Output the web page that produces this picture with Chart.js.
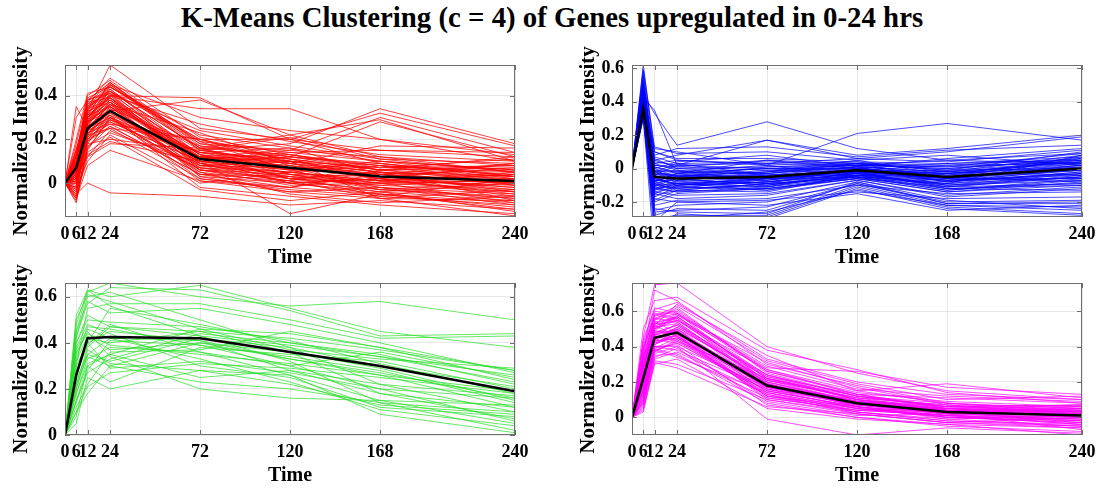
<!DOCTYPE html>
<html>
<head>
<meta charset="utf-8">
<script src="https://cdn.jsdelivr.net/npm/chart.js@4.4.0/dist/chart.umd.min.js"></script>
<style>
  body { margin: 0; background: #fff; width: 1104px; height: 492px; overflow: hidden; position: relative; font-family: "Liberation Serif", "Times New Roman", serif; }
  #title { position: absolute; left: 0; top: 0; width: 1104px; text-align: center; font-weight: bold; font-size: 30px; transform: scaleX(0.96); }
  canvas { position: absolute; }
</style>
</head>
<body>
<div id="title">K-Means Clustering (c = 4) of Genes upregulated in 0-24 hrs</div>
<canvas id="c1" width="552" height="235" style="left:0;top:40px"></canvas>
<canvas id="c2" width="544" height="235" style="left:560px;top:40px"></canvas>
<canvas id="c3" width="552" height="235" style="left:0;top:258px"></canvas>
<canvas id="c4" width="544" height="235" style="left:560px;top:258px"></canvas>
<script>
// time points (hrs)
const timePoints = [0, 6, 12, 24, 72, 120, 168, 240];

// cluster 1 (red)
const redCentroid = [0, 0.07, 0.25, 0.33, 0.11, 0.07, 0.03, 0.01];
const redGenes = [
  [0, 0.02, 0.30, 0.40, 0.12, 0.08, 0.02, 0.00],
  [0, -0.05, 0.22, 0.35, 0.08, 0.04, -0.02, -0.05],
  [0, 0.10, 0.35, 0.45, 0.15, 0.10, 0.05, 0.03],
  [0, 0.30, 0.38, 0.42, 0.20, 0.12, 0.08, 0.05],
  [0, -0.08, 0.15, 0.30, 0.05, 0.00, -0.04, -0.08],
  [0, 0.05, 0.28, 0.38, 0.10, 0.06, 0.10, 0.06],
  [0, 0.12, 0.40, 0.47, 0.18, 0.15, 0.12, 0.08],
  [0, 0.00, 0.20, 0.25, 0.02, -0.03, -0.06, -0.10],
  [0, 0.08, 0.33, 0.54, 0.25, 0.20, 0.15, 0.12],
  [0, 0.35, 0.25, 0.30, 0.14, 0.10, 0.05, 0.02],
  [0, -0.03, 0.10, 0.22, 0.00, 0.05, 0.08, 0.04],
  [0, 0.06, 0.26, 0.33, 0.38, 0.22, 0.12, 0.05],
  [0, 0.04, 0.30, 0.40, 0.39, 0.20, 0.09, 0.02],
  [0, 0.15, 0.32, 0.40, 0.34, 0.34, 0.20, 0.10],
  [0, 0.02, 0.18, 0.20, 0.15, 0.18, 0.34, 0.18],
  [0, 0.07, 0.22, 0.25, 0.20, 0.20, 0.32, 0.17],
  [0, -0.02, 0.20, 0.30, 0.12, 0.15, 0.30, 0.14],
  [0, 0.10, 0.28, 0.36, 0.10, 0.12, 0.28, 0.12],
  [0, 0.03, 0.12, 0.18, 0.16, 0.22, 0.29, 0.10],
  [0, -0.05, 0.00, -0.045, -0.06, -0.10, -0.08, -0.12],
  [0, 0.20, 0.41, 0.44, 0.22, 0.16, 0.10, 0.06],
  [0, 0.05, 0.24, 0.29, 0.06, 0.02, 0.00, -0.03],
  [0, -0.06, 0.16, 0.26, 0.04, -0.02, -0.05, -0.09],
  [0, 0.09, 0.34, 0.43, 0.13, 0.09, 0.04, 0.01],
  [0, 0.11, 0.36, 0.46, 0.17, 0.11, 0.06, 0.03],
  [0, 0.01, 0.27, 0.37, 0.09, 0.05, 0.01, -0.01],
  [0, 0.14, 0.38, 0.41, 0.24, 0.17, 0.11, 0.09],
  [0, -0.04, 0.14, 0.21, -0.03, -0.08, -0.04, -0.13],
  [0, 0.06, 0.31, 0.39, 0.07, 0.03, -0.01, -0.04],
  [0, 0.03, 0.25, 0.32, 0.11, 0.13, 0.07, 0.11],
  [0, 0.18, 0.39, 0.44, 0.19, 0.14, 0.15, 0.14],
  [0, 0.08, 0.29, 0.35, 0.03, 0.00, 0.02, -0.02],
  [0, 0.00, 0.23, 0.31, 0.14, 0.07, -0.02, -0.07],
  [0, 0.04, 0.19, 0.28, 0.10, -0.14, -0.05, -0.11],
  [0, 0.12, 0.37, 0.48, 0.21, 0.13, 0.06, 0.00],
  [0, -0.07, 0.08, 0.15, 0.01, -0.04, -0.07, -0.15],
  [0, 0.02, 0.21, 0.27, 0.08, 0.10, 0.03, 0.07],
  [0, 0.09, 0.32, 0.42, 0.16, 0.04, 0.00, 0.04],
  [0, 0.05, 0.26, 0.34, 0.05, -0.05, -0.09, -0.06],
  [0, 0.13, 0.35, 0.40, 0.27, 0.19, 0.13, 0.10],
  [0, 0.07, 0.30, 0.37, 0.12, 0.09, 0.17, 0.16],
  [0, -0.01, 0.17, 0.23, 0.09, 0.02, 0.05, -0.08],
  [0, 0.04, 0.24, 0.36, 0.13, 0.06, -0.03, 0.01],
  [0, 0.10, 0.33, 0.45, 0.30, 0.24, 0.20, 0.13],
  [0, 0.01, 0.26, 0.31, -0.02, -0.06, -0.10, -0.14],
  [0, 0.06, 0.28, 0.43, 0.11, 0.08, 0.04, 0.09],
  [0, 0.16, 0.31, 0.39, 0.15, 0.21, 0.11, 0.05],
  [0, 0.03, 0.22, 0.33, 0.07, 0.01, 0.08, -0.01],
  [0, 0.08, 0.34, 0.44, 0.18, 0.11, 0.01, -0.04],
  [0, -0.02, 0.19, 0.26, 0.04, 0.03, -0.06, 0.02],
  [0, 0.05, 0.29, 0.38, 0.09, 0.12, 0.06, 0.12],
  [0, 0.11, 0.27, 0.36, 0.23, 0.09, 0.02, -0.06],
  [0, 0.02, 0.13, 0.19, 0.10, 0.06, 0.09, 0.03],
  [0, 0.07, 0.36, 0.41, 0.06, -0.01, 0.00, -0.09],
  [0, 0.09, 0.31, 0.35, 0.14, 0.16, 0.04, 0.06],
  [0, 0.04, 0.20, 0.29, 0.12, 0.02, -0.04, 0.00],
  [0, 0.13, 0.38, 0.46, 0.16, 0.07, 0.03, -0.02],
  [0, -0.03, 0.24, 0.30, 0.01, -0.02, 0.06, 0.08],
  [0, 0.06, 0.23, 0.27, 0.20, 0.10, -0.07, -0.03],
  [0, 0.10, 0.30, 0.39, 0.08, 0.05, 0.01, 0.05],
  [0, -0.09, 0.18, 0.32, 0.06, 0.01, -0.03, -0.07],
  [0, 0.03, 0.27, 0.41, 0.13, 0.04, 0.03, 0.02],
  [0, 0.08, 0.33, 0.37, 0.03, -0.04, -0.02, -0.10],
  [0, -0.04, 0.21, 0.34, 0.17, 0.12, 0.09, 0.03],
  [0, 0.01, 0.29, 0.44, 0.20, 0.08, 0.02, -0.05],
  [0, 0.06, 0.35, 0.42, 0.09, 0.00, -0.05, -0.12],
  [0, 0.12, 0.28, 0.33, 0.12, 0.10, 0.07, 0.08],
  [0, -0.06, 0.12, 0.24, 0.07, 0.05, 0.00, 0.01],
  [0, 0.02, 0.31, 0.46, 0.15, 0.09, 0.05, -0.01],
  [0, 0.09, 0.37, 0.39, 0.11, 0.14, 0.10, 0.03],
  [0, 0.04, 0.25, 0.36, 0.04, 0.01, -0.07, -0.08],
  [0, -0.02, 0.23, 0.28, 0.10, 0.03, 0.01, 0.04],
  [0, 0.07, 0.32, 0.45, 0.19, 0.06, 0.04, 0.00],
  [0, 0.00, 0.26, 0.40, 0.08, 0.07, 0.03, -0.03],
  [0, 0.15, 0.34, 0.38, 0.13, 0.02, -0.01, 0.02],
  [0, 0.05, 0.21, 0.31, 0.02, -0.02, 0.04, -0.04],
  [0, -0.07, 0.16, 0.29, 0.14, 0.11, 0.06, 0.07],
  [0, 0.10, 0.30, 0.42, 0.16, 0.13, 0.08, 0.01],
  [0, 0.03, 0.28, 0.35, 0.06, 0.04, -0.03, -0.06],
  [0, 0.08, 0.24, 0.37, 0.11, 0.00, 0.02, 0.09]
];

// cluster 2 (blue)
const blueCentroid = [0, 0.36, -0.05, -0.06, -0.05, -0.01, -0.05, 0.00];
const blueGenes = [
  [0, 0.40, -0.05, -0.06, -0.04, -0.02, -0.05, 0.01],
  [0, 0.55, 0.02, 0.00, 0.01, 0.02, 0.00, 0.05],
  [0, 0.35, -0.12, -0.10, -0.08, -0.04, -0.10, -0.05],
  [0, 0.62, 0.10, 0.05, 0.02, 0.04, -0.02, 0.08],
  [0, 0.32, -0.20, -0.15, -0.12, -0.06, -0.14, -0.08],
  [0, 0.45, 0.33, 0.14, 0.28, 0.12, 0.05, 0.03],
  [0, 0.38, 0.12, 0.10, 0.02, 0.21, 0.27, 0.17],
  [0, 0.42, 0.35, 0.02, 0.17, 0.06, 0.10, 0.19],
  [0, 0.36, 0.05, 0.08, 0.17, 0.08, 0.12, 0.20],
  [0, 0.30, -0.30, -0.28, -0.28, -0.10, -0.22, -0.25],
  [0, 0.33, -0.35, -0.27, -0.30, -0.12, -0.24, -0.28],
  [0, 0.48, -0.25, -0.22, -0.20, -0.08, -0.21, -0.20],
  [0, 0.37, -0.18, -0.20, -0.22, -0.15, -0.25, -0.22],
  [0, 0.41, -0.08, -0.03, 0.05, 0.03, -0.01, 0.10],
  [0, 0.50, 0.00, 0.04, 0.08, 0.01, 0.06, 0.12],
  [0, 0.34, -0.10, -0.12, -0.10, -0.02, -0.12, -0.10],
  [0, 0.39, -0.03, -0.07, -0.09, -0.05, -0.08, -0.03],
  [0, 0.44, 0.04, 0.02, 0.00, -0.01, 0.02, 0.06],
  [0, 0.31, -0.15, -0.18, -0.16, -0.07, -0.17, -0.12],
  [0, 0.36, -0.06, -0.04, -0.02, 0.05, -0.04, 0.03],
  [0, 0.58, 0.08, 0.12, 0.13, 0.07, 0.11, 0.14],
  [0, 0.35, -0.28, -0.24, -0.25, -0.09, -0.20, -0.19],
  [0, 0.40, -0.13, -0.09, -0.06, -0.03, -0.07, -0.06],
  [0, 0.47, -0.01, -0.02, -0.07, 0.00, -0.03, 0.02],
  [0, 0.32, -0.40, -0.30, -0.26, -0.13, -0.22, -0.23],
  [0, 0.43, -0.09, -0.13, -0.14, -0.04, -0.09, -0.02],
  [0, 0.38, 0.06, 0.00, -0.03, 0.02, 0.05, 0.09],
  [0, 0.52, -0.02, 0.03, 0.04, 0.03, 0.01, 0.04],
  [0, 0.34, -0.17, -0.11, -0.13, -0.06, -0.11, -0.09],
  [0, 0.37, -0.04, -0.08, -0.05, -0.02, -0.06, 0.00],
  [0, 0.46, 0.10, 0.06, 0.06, 0.04, 0.03, 0.07],
  [0, 0.33, -0.22, -0.19, -0.18, -0.10, -0.15, -0.14],
  [0, 0.41, -0.07, -0.05, -0.01, -0.03, -0.02, -0.04],
  [0, 0.36, -0.11, -0.14, -0.11, -0.05, -0.13, -0.07],
  [0, 0.49, 0.03, 0.05, 0.03, 0.06, 0.04, 0.11],
  [0, 0.30, -0.50, -0.29, -0.29, -0.11, -0.23, -0.27],
  [0, 0.39, -0.02, -0.01, -0.08, -0.01, -0.07, -0.01],
  [0, 0.42, -0.14, -0.16, -0.15, -0.07, -0.16, -0.11],
  [0, 0.35, 0.01, -0.03, 0.00, 0.00, 0.03, 0.05],
  [0, 0.60, 0.13, 0.09, 0.10, 0.05, 0.08, 0.02],
  [0, 0.38, -0.09, -0.06, -0.10, -0.04, -0.05, -0.08],
  [0, 0.44, -0.05, -0.10, -0.06, 0.01, -0.10, -0.03],
  [0, 0.33, -0.26, -0.25, -0.23, -0.09, -0.21, -0.21],
  [0, 0.40, 0.07, 0.03, -0.04, -0.02, -0.01, 0.04],
  [0, 0.37, -0.12, -0.07, -0.03, 0.03, -0.06, -0.06],
  [0, 0.45, -0.04, -0.02, 0.02, -0.05, -0.09, 0.08],
  [0, 0.31, -0.32, -0.20, -0.19, -0.14, -0.18, -0.17],
  [0, 0.36, -0.08, -0.11, -0.12, -0.06, -0.14, -0.10],
  [0, 0.53, 0.05, 0.01, -0.01, 0.02, 0.00, 0.06],
  [0, 0.39, -0.10, -0.04, -0.07, -0.01, -0.04, -0.01],
  [0, 0.34, -0.19, -0.13, -0.09, -0.05, -0.12, -0.13],
  [0, 0.41, 0.00, -0.05, 0.01, 0.03, 0.02, 0.03],
  [0, 0.35, -0.24, -0.26, -0.27, -0.08, -0.19, -0.24],
  [0, 0.43, -0.06, -0.09, -0.11, -0.03, -0.11, -0.05],
  [0, 0.37, 0.02, 0.01, 0.05, 0.00, -0.03, 0.01],
  [0, 0.38, -0.07, -0.09, -0.07, -0.02, -0.06, 0.02],
  [0, 0.42, -0.11, -0.05, -0.04, 0.01, -0.08, -0.02],
  [0, 0.35, -0.02, -0.06, -0.10, -0.04, -0.03, 0.04],
  [0, 0.47, -0.14, -0.11, -0.08, -0.03, -0.10, -0.07],
  [0, 0.33, -0.05, -0.03, 0.00, 0.02, -0.05, 0.06],
  [0, 0.40, -0.09, -0.12, -0.06, -0.05, -0.07, -0.03],
  [0, 0.51, 0.01, -0.02, -0.03, 0.01, -0.02, 0.03],
  [0, 0.36, -0.13, -0.08, -0.11, -0.02, -0.11, -0.04],
  [0, 0.44, -0.03, -0.04, -0.05, 0.00, -0.04, 0.07],
  [0, 0.39, -0.16, -0.13, -0.09, -0.06, -0.09, -0.05],
  [0, 0.34, -0.07, -0.07, -0.02, 0.03, -0.01, 0.00],
  [0, 0.45, -0.10, -0.09, -0.13, -0.04, -0.12, -0.09],
  [0, 0.37, 0.03, -0.01, -0.04, -0.01, -0.03, 0.05],
  [0, 0.41, -0.06, -0.10, -0.08, -0.03, -0.06, -0.01],
  [0, 0.56, -0.04, 0.02, 0.03, 0.02, 0.01, 0.09],
  [0, 0.32, -0.12, -0.14, -0.12, -0.05, -0.13, -0.06],
  [0, 0.38, -0.01, -0.06, -0.06, -0.02, -0.05, 0.02],
  [0, 0.43, -0.08, -0.03, -0.09, 0.00, -0.08, 0.00],
  [0, 0.36, -0.15, -0.10, -0.05, -0.04, -0.07, -0.04],
  [0, 0.48, -0.02, -0.05, -0.02, 0.01, -0.02, 0.04]
];

// cluster 3 (green)
const greenCentroid = [0, 0.26, 0.42, 0.425, 0.42, 0.36, 0.30, 0.19];
const greenGenes = [
  [0, 0.52, 0.63, 0.60, 0.65, 0.55, 0.45, 0.38],
  [0, 0.45, 0.62, 0.66, 0.60, 0.56, 0.58, 0.50],
  [0, 0.30, 0.55, 0.57, 0.57, 0.50, 0.42, 0.43],
  [0, 0.20, 0.35, 0.32, 0.42, 0.38, 0.30, 0.21],
  [0, 0.10, 0.18, 0.30, 0.40, 0.33, 0.26, 0.12],
  [0, 0.38, 0.48, 0.44, 0.30, 0.25, 0.12, 0.08],
  [0, 0.25, 0.42, 0.40, 0.45, 0.42, 0.37, 0.28],
  [0, 0.05, 0.25, 0.20, 0.28, 0.26, 0.15, 0.05],
  [0, 0.42, 0.60, 0.62, 0.50, 0.38, 0.22, 0.10],
  [0, 0.15, 0.30, 0.35, 0.25, 0.28, 0.22, 0.17],
  [0, 0.28, 0.40, 0.55, 0.48, 0.40, 0.35, 0.22],
  [0, 0.35, 0.45, 0.34, 0.20, 0.16, 0.15, 0.13],
  [0, 0.22, 0.38, 0.47, 0.45, 0.36, 0.18, 0.07],
  [0, 0.18, 0.33, 0.38, 0.36, 0.30, 0.36, 0.25],
  [0, 0.48, 0.63, 0.56, 0.43, 0.32, 0.14, 0.02],
  [0, 0.30, 0.40, 0.29, 0.32, 0.27, 0.20, 0.16],
  [0, 0.12, 0.22, 0.36, 0.37, 0.45, 0.38, 0.28],
  [0, 0.40, 0.50, 0.49, 0.47, 0.41, 0.31, 0.18],
  [0, 0.24, 0.35, 0.42, 0.33, 0.23, 0.11, 0.04],
  [0, 0.08, 0.30, 0.23, 0.38, 0.35, 0.32, 0.20],
  [0, 0.33, 0.47, 0.46, 0.39, 0.34, 0.28, 0.14],
  [0, 0.20, 0.37, 0.31, 0.28, 0.22, 0.13, 0.09],
  [0, 0.45, 0.58, 0.53, 0.55, 0.48, 0.40, 0.27],
  [0, 0.15, 0.27, 0.33, 0.44, 0.40, 0.34, 0.23],
  [0, 0.36, 0.44, 0.39, 0.35, 0.31, 0.26, 0.19],
  [0, 0.27, 0.40, 0.45, 0.41, 0.28, 0.18, 0.12],
  [0, 0.50, 0.61, 0.58, 0.46, 0.37, 0.33, 0.29],
  [0, 0.10, 0.21, 0.27, 0.31, 0.29, 0.25, 0.18],
  [0, 0.32, 0.43, 0.37, 0.40, 0.36, 0.29, 0.15],
  [0, 0.26, 0.39, 0.48, 0.36, 0.26, 0.09, 0.01],
  [0, 0.40, 0.52, 0.47, 0.43, 0.39, 0.34, 0.26],
  [0, 0.18, 0.31, 0.35, 0.46, 0.44, 0.38, 0.24],
  [0, 0.43, 0.57, 0.64, 0.63, 0.54, 0.43, 0.44],
  [0, 0.22, 0.34, 0.30, 0.23, 0.20, 0.14, 0.10],
  [0, 0.37, 0.46, 0.42, 0.41, 0.33, 0.27, 0.16],
  [0, 0.14, 0.28, 0.41, 0.39, 0.30, 0.20, 0.06]
];

// cluster 4 (magenta)
const magentaCentroid = [0, 0.22, 0.45, 0.48, 0.18, 0.08, 0.03, 0.01];
const magentaGenes = [
  [0, 0.25, 0.50, 0.55, 0.22, 0.10, 0.04, 0.02],
  [0, 0.10, 0.38, 0.42, 0.15, 0.06, 0.00, -0.03],
  [0, 0.45, 0.75, 0.76, 0.40, 0.25, 0.15, 0.10],
  [0, 0.35, 0.72, 0.66, 0.30, 0.18, 0.08, 0.05],
  [0, 0.05, 0.32, 0.30, 0.10, 0.02, -0.03, -0.06],
  [0, 0.30, 0.55, 0.62, 0.25, 0.12, 0.06, 0.03],
  [0, 0.15, 0.42, 0.45, 0.12, 0.05, 0.01, -0.02],
  [0, 0.40, 0.60, 0.58, 0.28, 0.26, 0.17, 0.13],
  [0, 0.20, 0.48, 0.52, 0.20, 0.09, 0.05, 0.00],
  [0, 0.08, 0.35, 0.36, 0.08, 0.00, -0.05, -0.08],
  [0, 0.28, 0.52, 0.64, 0.35, 0.15, 0.19, 0.11],
  [0, 0.18, 0.40, 0.38, 0.16, 0.07, 0.02, 0.04],
  [0, 0.50, 0.66, 0.68, 0.38, 0.27, 0.14, 0.08],
  [0, 0.12, 0.44, 0.50, 0.14, 0.03, -0.02, -0.05],
  [0, 0.22, 0.46, 0.43, 0.22, 0.11, 0.07, 0.06],
  [0, 0.03, 0.30, 0.33, 0.05, -0.01, -0.04, -0.10],
  [0, 0.32, 0.58, 0.60, 0.27, 0.13, 0.05, 0.02],
  [0, 0.16, 0.41, 0.47, 0.17, 0.08, 0.04, 0.07],
  [0, 0.26, 0.53, 0.54, 0.19, 0.06, 0.00, -0.01],
  [0, 0.09, 0.36, 0.40, -0.01, -0.10, -0.06, -0.09],
  [0, 0.38, 0.57, 0.63, 0.32, 0.19, 0.10, 0.12],
  [0, 0.14, 0.39, 0.35, 0.11, 0.04, 0.01, -0.04],
  [0, 0.24, 0.49, 0.57, 0.24, 0.12, 0.08, 0.03],
  [0, 0.19, 0.43, 0.46, 0.13, 0.02, -0.03, 0.00],
  [0, 0.42, 0.62, 0.59, 0.29, 0.16, 0.12, 0.09],
  [0, 0.07, 0.34, 0.39, 0.09, 0.01, 0.02, -0.07],
  [0, 0.29, 0.51, 0.53, 0.21, 0.09, 0.03, 0.05],
  [0, 0.21, 0.47, 0.50, 0.16, 0.05, 0.00, -0.02],
  [0, 0.34, 0.56, 0.61, 0.26, 0.14, 0.09, 0.06],
  [0, 0.11, 0.37, 0.44, 0.12, 0.06, -0.01, 0.01],
  [0, 0.27, 0.54, 0.48, 0.18, 0.10, 0.06, 0.04],
  [0, 0.17, 0.45, 0.49, 0.19, 0.07, 0.03, -0.03],
  [0, 0.36, 0.59, 0.56, 0.23, 0.13, 0.11, 0.08],
  [0, 0.13, 0.40, 0.41, 0.07, 0.00, -0.04, -0.06],
  [0, 0.23, 0.50, 0.58, 0.31, 0.17, 0.07, 0.02],
  [0, 0.06, 0.33, 0.37, 0.13, 0.04, 0.05, 0.03],
  [0, 0.31, 0.52, 0.46, 0.17, 0.08, 0.02, 0.00],
  [0, 0.19, 0.44, 0.51, 0.21, 0.11, 0.04, 0.01],
  [0, 0.44, 0.61, 0.65, 0.33, 0.20, 0.13, 0.10],
  [0, 0.15, 0.42, 0.47, 0.10, 0.03, -0.02, -0.04],
  [0, 0.26, 0.48, 0.52, 0.24, 0.12, 0.06, 0.07],
  [0, 0.09, 0.38, 0.34, 0.14, 0.05, 0.01, -0.01],
  [0, 0.33, 0.55, 0.59, 0.20, 0.08, 0.03, 0.02],
  [0, 0.20, 0.47, 0.44, 0.15, 0.06, 0.02, 0.05],
  [0, 0.39, 0.58, 0.55, 0.27, 0.15, 0.08, 0.04],
  [0, 0.04, 0.31, 0.28, 0.06, 0.02, -0.03, -0.05],
  [0, 0.28, 0.53, 0.57, 0.22, 0.10, 0.05, 0.03],
  [0, 0.17, 0.43, 0.45, 0.18, 0.09, 0.04, 0.00],
  [0, 0.18, 0.46, 0.53, 0.17, 0.07, 0.02, 0.01],
  [0, 0.28, 0.49, 0.47, 0.20, 0.09, 0.04, 0.03],
  [0, 0.12, 0.41, 0.50, 0.23, 0.10, 0.03, -0.02],
  [0, 0.35, 0.54, 0.56, 0.19, 0.06, 0.01, 0.00],
  [0, 0.22, 0.44, 0.42, 0.14, 0.05, 0.00, -0.03],
  [0, 0.08, 0.39, 0.45, 0.16, 0.08, 0.05, 0.04],
  [0, 0.30, 0.51, 0.59, 0.26, 0.13, 0.06, 0.05],
  [0, 0.16, 0.47, 0.48, 0.12, 0.03, -0.01, -0.05],
  [0, 0.24, 0.43, 0.51, 0.21, 0.11, 0.07, 0.02],
  [0, 0.40, 0.56, 0.54, 0.18, 0.08, 0.03, 0.06],
  [0, 0.14, 0.37, 0.43, 0.15, 0.06, 0.02, -0.01],
  [0, 0.27, 0.52, 0.55, 0.24, 0.10, 0.04, 0.02],
  [0, 0.20, 0.45, 0.46, 0.11, 0.04, 0.01, -0.04],
  [0, 0.33, 0.50, 0.57, 0.22, 0.12, 0.05, 0.03],
  [0, 0.10, 0.40, 0.40, 0.17, 0.07, 0.03, 0.01],
  [0, 0.25, 0.48, 0.49, 0.19, 0.09, 0.06, 0.07]
];

// y axis ranges and tick labels per panel
const redRange = [-0.155, 0.54];
const blueRange = [-0.29, 0.62];
const greenRange = [0, 0.66];
const magentaRange = [-0.1, 0.76];
const redTicks = [0, 0.2, 0.4];
const blueTicks = [-0.2, 0, 0.2, 0.4, 0.6];
const greenTicks = [0, 0.2, 0.4, 0.6];
const magentaTicks = [0, 0.2, 0.4, 0.6];

const serif = '"Liberation Serif", "Times New Roman", serif';
const gridColor = 'rgba(0,0,0,0.09)';

// MATLAB style box with inner tick marks
const boxPlugin = {
    id: 'box',
    afterDatasetsDraw(chart) {
        const ctx = chart.ctx, a = chart.chartArea;
        const xs = chart.scales.x, ys = chart.scales.y;
        ctx.save();
        ctx.strokeStyle = '#6e6e6e';
        ctx.lineWidth = 1;
        ctx.strokeRect(a.left + 0.5, a.top + 0.5, a.right - a.left - 1, a.bottom - a.top - 1);
        ctx.beginPath();
        xs.ticks.forEach(t => {
            const px = Math.round(xs.getPixelForValue(t.value)) + 0.5;
            ctx.moveTo(px, a.bottom); ctx.lineTo(px, a.bottom - 5);
            ctx.moveTo(px, a.top); ctx.lineTo(px, a.top + 5);
        });
        ys.ticks.forEach(t => {
            const py = Math.round(ys.getPixelForValue(t.value)) + 0.5;
            ctx.moveTo(a.left, py); ctx.lineTo(a.left + 5, py);
            ctx.moveTo(a.right, py); ctx.lineTo(a.right - 5, py);
        });
        ctx.stroke();
        ctx.restore();
    }
};

function toPoints(row) {
    return row.map((v, i) => ({x: timePoints[i], y: v}));
}

function makePanel(id, genes, centroid, color, range, yTicks, yWidth, rightPad, yTitlePad) {
    const datasets = [{
        data: toPoints(centroid),
        borderColor: '#000',
        borderWidth: 2.5,
        pointRadius: 0,
        clip: 0
    }];
    genes.forEach(g => {
        datasets.push({
            data: toPoints(g),
            borderColor: color,
            borderWidth: 1,
            pointRadius: 0,
            clip: 0
        });
    });

    new Chart(document.getElementById(id), {
        type: 'line',
        data: {datasets: datasets},
        plugins: [boxPlugin],
        options: {
            responsive: false,
            animation: false,
            events: [],
            layout: {padding: {left: 0, top: 25, right: rightPad, bottom: 0}},
            plugins: {legend: {display: false}, tooltip: {enabled: false}},
            scales: {
                x: {
                    type: 'linear',
                    min: 0,
                    max: 240,
                    afterBuildTicks: s => { s.ticks = timePoints.map(v => ({value: v})); },
                    afterFit: s => { s.height = 58; },
                    grid: {color: gridColor, drawTicks: false},
                    border: {display: false},
                    ticks: {
                        autoSkip: false, maxRotation: 0, padding: 7, color: '#000',
                        font: {family: serif, size: 18, weight: 'bold'},
                        callback: v => String(v)
                    },
                    title: {
                        display: true, text: 'Time', color: '#000',
                        font: {family: serif, size: 20, weight: 'bold'},
                        padding: {top: 0, bottom: 5}
                    }
                },
                y: {
                    min: range[0],
                    max: range[1],
                    afterBuildTicks: s => { s.ticks = yTicks.map(v => ({value: v})); },
                    afterFit: s => { s.width = yWidth; },
                    grid: {color: gridColor, drawTicks: false},
                    border: {display: false},
                    ticks: {
                        padding: 8, color: '#000',
                        font: {family: serif, size: 18, weight: 'bold'},
                        callback: v => v === 0 ? '0' : v.toFixed(1)
                    },
                    title: {
                        display: true, text: 'Normalized Intensity', color: '#000',
                        font: {family: serif, size: 21, weight: 'bold'},
                        padding: {top: yTitlePad, bottom: 0}
                    }
                }
            }
        }
    });
}

makePanel('c1', redGenes, redCentroid, 'rgba(255,0,0,0.75)', redRange, redTicks, 65, 37, 9);
makePanel('c2', blueGenes, blueCentroid, 'rgba(0,0,255,0.7)', blueRange, blueTicks, 72, 22, 16);
makePanel('c3', greenGenes, greenCentroid, 'rgba(40,220,40,0.7)', greenRange, greenTicks, 65, 37, 9);
makePanel('c4', magentaGenes, magentaCentroid, 'rgba(255,0,255,0.7)', magentaRange, magentaTicks, 72, 22, 16);
</script>
</body>
</html>
